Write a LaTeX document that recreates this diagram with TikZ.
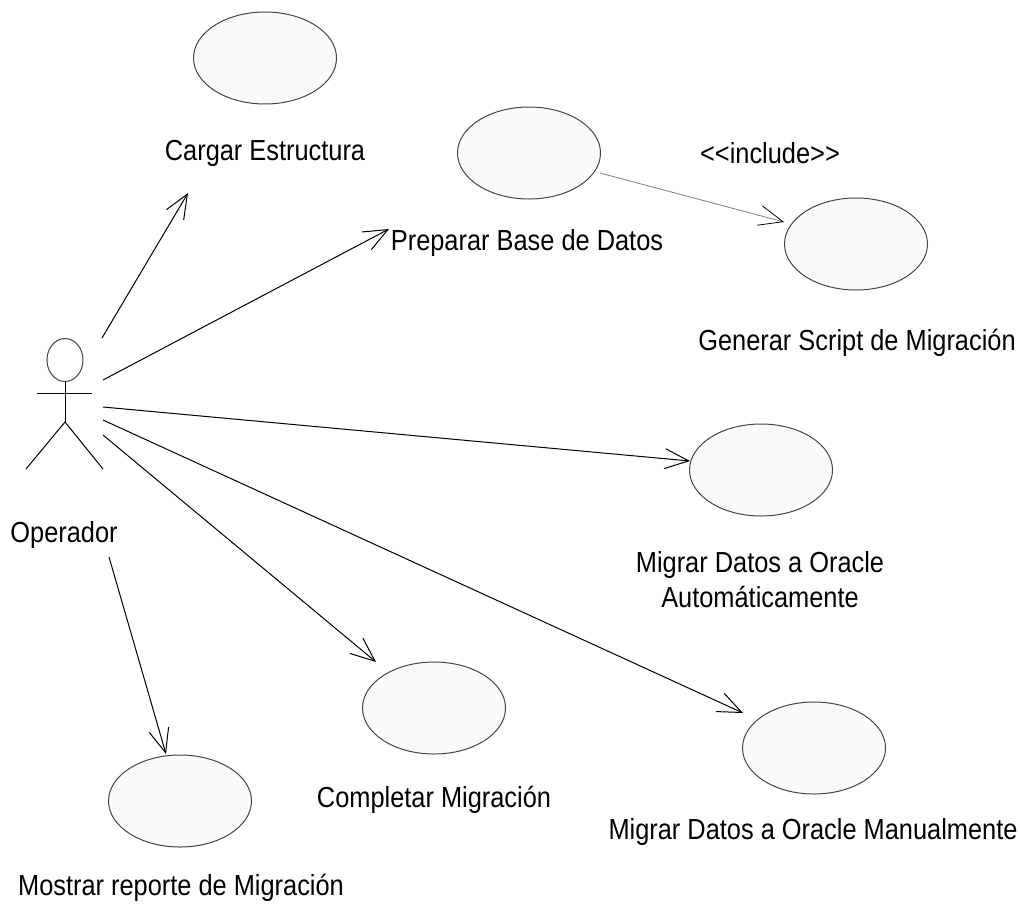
\documentclass[tikz,border=0pt]{standalone}
\usepackage{fontspec}
\setmainfont{Liberation Sans}[FakeStretch=0.875]
\usepackage{tikz}
\usetikzlibrary{shapes.geometric,arrows.meta}
\definecolor{casefill}{HTML}{FAFAFA}
\definecolor{caseline}{HTML}{454545}
\begin{document}
\begin{tikzpicture}[x=0.5pt, y=-0.5pt, line width=0.5pt,
usecase_style/.style={ellipse,draw=caseline,fill=casefill,minimum width=71.5pt,minimum height=46pt,inner sep=0pt},
label_style/.style={font=\fontsize{14.5}{17.5}\selectfont,inner sep=0pt,align=center},
assoc_style/.style={draw=black,-{Straight Barb[length=12pt,width=10pt]}},
include_style/.style={draw=gray,line width=0.4pt,-{Straight Barb[length=12pt,width=10pt,color=black]}}]
\useasboundingbox (0,0) rectangle (1020,910);

\node[ellipse,draw=caseline,minimum width=18pt,minimum height=21.5pt,inner sep=0pt] (head) at (65,360) {};
\draw (head.south) -- (65,422) coordinate (hip);
\draw (37,393) -- (92,393);
\draw (26,469) -- (hip) -- (103,469);
\node[label_style] (operador) at (64,535) {Operador};

\node[usecase_style] (cargar) at (265,58) {};
\node[usecase_style] (preparar) at (529,153) {};
\node[usecase_style] (generar) at (856,244) {};
\node[usecase_style] (automatico) at (761,470) {};
\node[usecase_style] (manual) at (814,748) {};
\node[usecase_style] (completar) at (434,708) {};
\node[usecase_style] (mostrar) at (180,801) {};

\node[label_style] (cargar_lbl) at (265,153) {Cargar Estructura};
\node[label_style] (preparar_lbl) at (527,243) {Preparar Base de Datos};
\node[label_style] (generar_lbl) at (857,343) {Generar Script de Migración};
\node[label_style] (automatico_lbl) at (760,580) {Migrar Datos a Oracle\\Automáticamente};
\node[label_style] (manual_lbl) at (813,832) {Migrar Datos a Oracle Manualmente};
\node[label_style] (completar_lbl) at (434,800) {Completar Migración};
\node[label_style] (mostrar_lbl) at (181,888) {Mostrar reporte de Migración};
\node[label_style] (include_lbl) at (770,153) {<\kern0pt<include>\kern0pt>};

\coordinate (from_cargar) at (102,338);
\coordinate (from_preparar) at (103,380);
\coordinate (from_automatico) at (103,407);
\coordinate (from_manual) at (103,420);
\coordinate (from_completar) at (103,435);
\coordinate (from_mostrar) at (109,557);
\coordinate (to_cargar) at (188,193);
\coordinate (to_preparar) at (389,229);
\coordinate (to_automatico) at (690,461);
\coordinate (to_manual) at (743,713);
\coordinate (to_completar) at (376,662);
\coordinate (to_mostrar) at (166,754);
\coordinate (inc_start) at (600,173);
\coordinate (inc_end) at (784,222);

\draw[assoc_style] (from_cargar) -- (to_cargar);
\draw[assoc_style] (from_preparar) -- (to_preparar);
\draw[assoc_style] (from_automatico) -- (to_automatico);
\draw[assoc_style] (from_manual) -- (to_manual);
\draw[assoc_style] (from_completar) -- (to_completar);
\draw[assoc_style] (from_mostrar) -- (to_mostrar);
\draw[include_style] (inc_start) -- (inc_end);
\end{tikzpicture}
\end{document}
